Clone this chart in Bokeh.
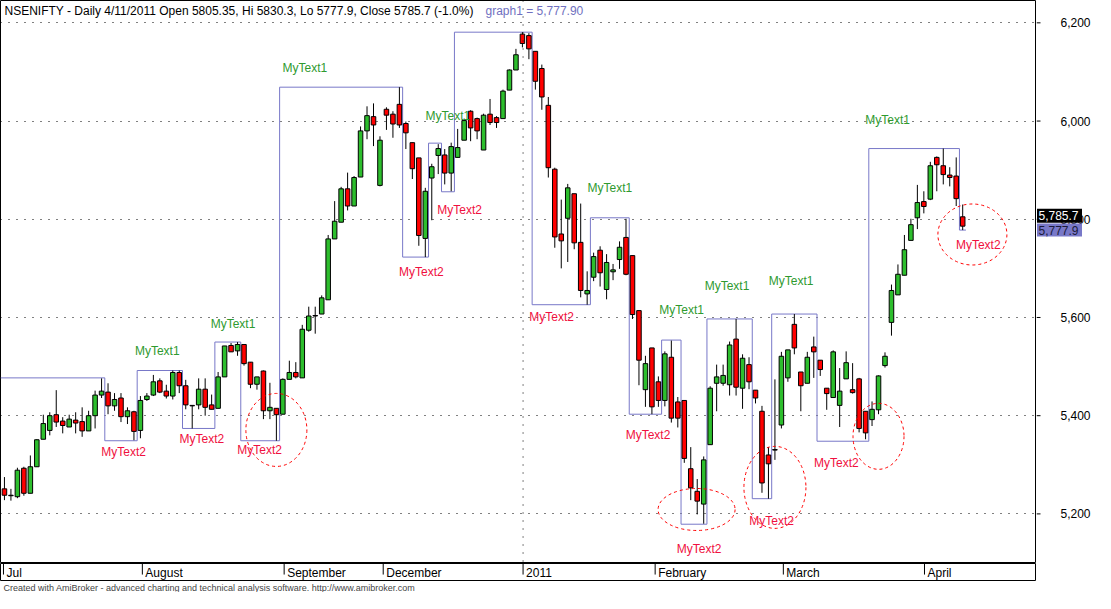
from bokeh.plotting import figure
from bokeh.models import FixedTicker, Label, Span, Range1d, Title, Grid
from bokeh.layouts import column, row
from bokeh.embed import file_html
from bokeh.resources import INLINE
from bokeh.core.properties import value

# ---------------- data ----------------
opens = [5251,5238,5235,5293,5242,5296,5352,5370,5402,5389,
 5377,5391,5388,5369,5400,5442,5448,5420,5436,5398,
 5408,5370,5433,5442,5471,5450,5440,5488,5461,5421,
 5422,5454,5422,5415,5479,5543,5532,5545,5509,5464,
 5491,5410,5415,5403,5474,5488,5477,5574,5604,5607,
 5636,5760,5794,5862,5827,5886,5980,6009,5869,6024,
 6014,6034,5995,5956,5925,5761,5884,5930,5931,5894,
 5926,5961,6020,6005,5941,6014,6007,6005,6063,6104,
 6177,6174,6142,6107,6032,5902,5770,5802,5852,5753,
 5648,5682,5737,5657,5693,5718,5763,5726,5614,5453,
 5538,5469,5431,5519,5428,5431,5292,5246,5220,5341,
 5466,5466,5463,5556,5456,5504,5452,5409,5320,5331,
 5381,5477,5586,5489,5466,5540,5513,5456,5437,5421,
 5475,5453,5475,5409,5392,5412,5502,5590,5646,5686,
 5757,5803,5836,5841,5926,5909,5890,5888,5805]
highs = [5275,5251,5294,5296,5319,5352,5402,5407,5452,5397,
 5402,5407,5417,5410,5451,5476,5466,5446,5446,5417,
 5410,5440,5446,5483,5476,5463,5492,5492,5473,5421,
 5476,5476,5443,5489,5542,5548,5550,5545,5509,5479,
 5492,5467,5415,5476,5512,5509,5585,5622,5622,5645,
 5768,5837,5866,5895,5888,5989,6030,6036,5969,6028,
 6020,6069,5999,5956,5925,5864,5913,5953,5943,5956,
 5984,6005,6022,6007,6015,6045,6010,6064,6105,6147,
 6181,6179,6142,6115,6049,5905,5840,5872,5852,5832,
 5694,5732,5745,5729,5709,5755,5801,5726,5614,5522,
 5538,5480,5531,5553,5438,5431,5336,5271,5317,5460,
 5504,5504,5551,5597,5525,5519,5452,5420,5336,5474,
 5530,5534,5607,5489,5530,5561,5513,5456,5533,5497,
 5531,5507,5477,5409,5429,5482,5529,5667,5708,5768,
 5801,5870,5857,5917,5928,5944,5906,5926,5830]
lows = [5228,5227,5232,5237,5242,5296,5352,5360,5377,5364,
 5377,5364,5357,5369,5374,5436,5403,5410,5387,5383,
 5350,5354,5430,5440,5446,5435,5433,5446,5413,5374,
 5413,5400,5413,5415,5479,5530,5522,5502,5456,5453,
 5393,5393,5349,5403,5474,5476,5477,5571,5567,5607,
 5636,5760,5794,5818,5827,5886,5963,5949,5867,5982,
 5966,5986,5943,5882,5746,5723,5798,5892,5871,5857,
 5926,5961,5959,5963,5941,5992,5986,6005,6063,6104,
 6150,6126,6064,6023,5885,5742,5700,5713,5739,5641,
 5626,5674,5663,5637,5676,5699,5686,5597,5462,5418,
 5403,5418,5419,5386,5376,5304,5228,5199,5180,5341,
 5409,5461,5441,5441,5414,5454,5425,5243,5231,5310,
 5374,5469,5525,5409,5466,5477,5481,5412,5437,5377,
 5475,5445,5366,5352,5379,5403,5498,5563,5646,5686,
 5757,5780,5812,5839,5857,5871,5867,5827,5778]
closes = [5238,5237,5289,5242,5296,5351,5384,5400,5387,5380,
 5393,5385,5369,5400,5442,5450,5420,5433,5398,5410,
 5368,5431,5440,5469,5448,5440,5488,5461,5422,5420,
 5454,5417,5413,5479,5542,5530,5545,5506,5464,5479,
 5410,5417,5402,5474,5488,5479,5576,5603,5603,5640,
 5760,5796,5862,5827,5885,5980,6011,5992,5961,6012,
 5994,5992,5976,5903,5767,5857,5907,5944,5894,5948,
 5946,6001,5986,5980,6012,5997,5997,6061,6104,6135,
 6158,6147,6081,6049,5905,5764,5756,5864,5752,5655,
 5655,5724,5691,5712,5697,5743,5688,5606,5513,5506,
 5418,5431,5526,5395,5395,5313,5253,5226,5310,5456,
 5479,5482,5544,5458,5517,5469,5436,5263,5302,5330,
 5521,5534,5538,5461,5519,5530,5494,5445,5530,5450,
 5508,5447,5374,5365,5413,5481,5521,5655,5688,5738,
 5789,5834,5826,5909,5911,5891,5885,5842,5786]

# month labels on the bar axis (bar index where each begins)
month_labels = ["Jul", "August", "September", "December", "2011", "February", "March", "April"]
month_pos = [-0.15, 21.3, 43.2, 58.5, 80.1, 100.5, 120.3, 142.1]

# stepped swing line (bar boundary where each level starts, and the level)
zz_start = [-0.61, 15.5, 20.5, 27.5, 32.5, 36.5, 42.5, 61.5, 65.5, 67.5, 69.5,
            81.5, 90.5, 96.5, 101.5, 104.5, 108.5, 115.5, 118.5, 125.5, 133.5, 147.5, 148.5]
zz_level = [5477, 5349, 5492, 5374, 5550, 5349, 6069, 5723, 5955, 5856, 6181,
            5626, 5803, 5403, 5554, 5179, 5597, 5231, 5607, 5348, 5944, 5778, 5778]

# text markers
t1_x = [46.4, 23.6, 35.3, 68.5, 93.5, 104.6, 111.6, 121.5, 136.4]
t1_y = [6109, 5531, 5586, 6010, 5863, 5616, 5665, 5675, 6002]
t2_x = [18.4, 30.5, 39.4, 64.4, 70.3, 84.5, 99.4, 107.3, 118.5, 128.5, 150.4]
t2_y = [5327, 5353, 5331, 5693, 5818, 5600, 5360, 5129, 5186, 5303, 5747]

# highlighted spots (dashed ellipses)
circ_x = [42.0, 106.9, 119.0, 135.0, 149.5]
circ_y = [5371, 5209, 5254, 5358, 5769]

y_ticks = [5200, 5400, 5600, 5800, 6000, 6200]
y_tick_labels = ["5,200", "5,400", "5,600", "5,800", "6,000", "6,200"]
last_close = 5785.7
graph1_val = 5777.9

# ---------------- layout ----------------
X0, X1 = -0.61, 159.4
Y0, Y1 = 5099, 6245.5
FW, FH = 1036, 563
AW = 59
FONT = value("Liberation Sans")
PX_Y = (Y1 - Y0) / FH  # price per screen pixel

p = figure(frame_width=FW, frame_height=FH, x_range=Range1d(X0, X1), y_range=Range1d(Y0, Y1),
           output_backend="svg", toolbar_location=None, x_axis_location=None,
           y_axis_location=None, min_border_left=0, min_border_top=0,
           min_border_bottom=0, min_border_right=0)
p.outline_line_color = "black"
p.background_fill_color = "white"
p.border_fill_color = "white"
for g in p.xgrid:
    g.visible = False
if len(p.ygrid) == 0:
    p.add_layout(Grid(dimension=1, ticker=FixedTicker(ticks=y_ticks)), "center")
for g in p.ygrid:
    g.ticker = FixedTicker(ticks=y_ticks)
    g.grid_line_color = "black"
    g.grid_line_dash = "1 7"
    g.grid_line_alpha = 1.0

p.add_layout(Span(location=month_pos[4], dimension="height", line_color="black",
                  line_dash="1 7", line_width=1))

# swing step line
p.step(x=zz_start, y=zz_level, mode="after", line_color="#7878c8", line_width=1)

# candles
idx = list(range(len(opens)))
tops = [max(o, c) for o, c in zip(opens, closes)]
bots = [min(o, c) for o, c in zip(opens, closes)]
cols = []
for o, c in zip(opens, closes):
    if abs(c - o) <= 1:
        cols.append("black")
    elif c > o:
        cols.append("#2dbe2d")
    else:
        cols.append("#ff0000")
p.segment(x0=idx, y0=lows, x1=idx, y1=highs, line_color="black", line_width=1)
p.vbar(x=idx, width=0.7, top=tops, bottom=bots, fill_color=cols, line_color="black", line_width=1)

# ellipses
p.ellipse(x=circ_x, y=circ_y, width=[61, 77, 62, 51, 69], height=[73, 42, 82, 66, 61],
          width_units="screen", height_units="screen", fill_color=None,
          line_color="#ff0000", line_dash="3 3", line_width=1)

# text markers
p.text(x=t1_x, y=t1_y, text=["MyText1"] * len(t1_x), text_color="#2f9a2f",
       text_align="center", text_baseline="middle", text_font=FONT, text_font_size="12px")
p.text(x=t2_x, y=t2_y, text=["MyText2"] * len(t2_x), text_color="#f01040",
       text_align="center", text_baseline="middle", text_font=FONT, text_font_size="12px")

# title inside plot
p.add_layout(Label(x=X0, y=Y1, x_offset=4, y_offset=-3, text_baseline="top",
                   text="NSENIFTY - Daily 4/11/2011 Open 5805.35, Hi 5830.3, Lo 5777.9, Close 5785.7 (-1.0%)",
                   text_font="Liberation Sans", text_font_size="12px", text_color="black"))
p.add_layout(Label(x=X0 + 485 * (X1 - X0) / FW, y=Y1, y_offset=-3, text_baseline="top",
                   text="graph1 = 5,777.90", text_font="Liberation Sans",
                   text_font_size="12px", text_color="#7070c0"))

# ---------------- price axis panel ----------------
r = figure(frame_width=AW, frame_height=FH, x_range=Range1d(0, AW), y_range=p.y_range,
           output_backend="svg", toolbar_location=None, x_axis_location=None,
           y_axis_location=None, min_border_left=0, min_border_right=0,
           min_border_top=0, min_border_bottom=0)
r.outline_line_color = None
r.background_fill_color = "white"
r.border_fill_color = "white"
for g in r.grid:
    g.visible = False
r.segment(x0=[0] * len(y_ticks), y0=y_ticks, x1=[4] * len(y_ticks), y1=y_ticks,
          line_color="black", line_width=1)
r.text(x=[24] * len(y_ticks), y=y_ticks, text=y_tick_labels, text_baseline="middle",
       text_align="left", text_font=FONT, text_font_size="12px", text_color="black")
tag_y = [last_close + 10.5 * PX_Y, graph1_val]
r.rect(x=[23, 23], y=tag_y, width=[45, 45], height=[14, 13], height_units="screen",
       fill_color=["black", "#7878c8"], line_color=None)
r.text(x=[2, 2], y=tag_y, text=["5,785.7", "5,777.9"], text_baseline="middle",
       text_align="left", text_font=FONT, text_font_size="12px",
       text_color=["white", "#1a1a3a"])

# ---------------- date strip ----------------
s = figure(frame_width=FW, frame_height=17, x_range=p.x_range, y_range=Range1d(0, 1),
           output_backend="svg", toolbar_location=None, x_axis_location=None,
           y_axis_location=None, min_border_left=0, min_border_right=0,
           min_border_top=0, min_border_bottom=0)
s.outline_line_color = "black"
s.background_fill_color = "white"
s.border_fill_color = "white"
for g in s.grid:
    g.visible = False
s.segment(x0=month_pos, y0=[1] * len(month_pos), x1=month_pos, y1=[0.35] * len(month_pos),
          line_color="black", line_width=1)
s.text(x=month_pos, y=[0.45] * len(month_pos), text=month_labels, x_offset=3,
       text_baseline="middle", text_align="left", text_font=FONT, text_font_size="12px",
       text_color="black")
s.add_layout(Title(text="Created with AmiBroker - advanced charting and technical analysis software. http://www.amibroker.com",
                   text_font="Liberation Sans", text_font_size="9px", text_font_style="normal",
                   align="left", offset=3, standoff=0), "below")

layout = column(row(p, r, spacing=0), s, spacing=0)
open("out.html", "w").write(file_html(layout, INLINE))
